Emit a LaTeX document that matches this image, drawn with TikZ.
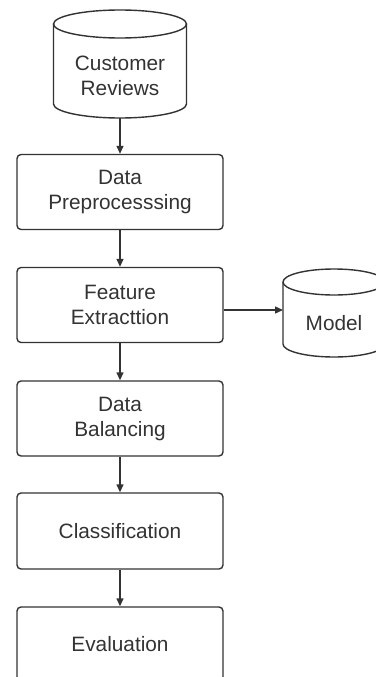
\documentclass[tikz,border=0pt]{standalone}
\usepackage{fontspec}
\setmainfont{Liberation Sans}
\usetikzlibrary{arrows.meta}
\definecolor{ink}{HTML}{333333}
\begin{document}
\begin{tikzpicture}[x=1pt,y=-1pt,
  line width=1.4pt, draw=ink,
  stepbox/.style={draw=ink, rounded corners=4pt, minimum width=206pt, minimum height=75pt,
    align=center, font=\fontsize{20.8}{25}\selectfont, text=ink, inner sep=0pt},
  lbl/.style={align=center, font=\fontsize{20.8}{25}\selectfont, text=ink, inner sep=0pt},
  conn/.style={draw=ink, line width=1.4pt, -{Triangle[length=8pt,width=7pt]}}]
\useasboundingbox (0,0) rectangle (375,677);
\fill[white] (0,0) rectangle (375,677);

% Customer Reviews cylinder
\draw[ink] (53.5,24) -- (53.5,104) arc[start angle=180, end angle=360, x radius=66.5, y radius=-14] -- (186.5,24);
\draw[ink] (120,24) ellipse[x radius=66.5, y radius=14];
\node[lbl] (cr) at (120,76) {Customer\\Reviews};
\coordinate (crb) at (120,118);

% Model cylinder
\draw[ink] (283,282) -- (283,344) arc[start angle=180, end angle=360, x radius=51, y radius=-13] -- (385,282);
\draw[ink] (334,282) ellipse[x radius=51, y radius=13];
\node[lbl] (model) at (334,323) {Model};
\coordinate (modl) at (283,310);

% Process boxes
\node[stepbox] (pre) at (120,192) {Data\\Preprocesssing};
\node[stepbox] (fe) at (120,305) {Feature\\Extracttion};
\node[stepbox] (bal) at (120,418.5) {Data\\Balancing};
\node[stepbox, minimum height=76pt] (cls) at (120,531) {Classification};
\node[stepbox, minimum height=74pt] (ev) at (120,644) {Evaluation};

% Connectors
\draw[conn] (crb) -- (pre.north);
\draw[conn] (pre.south) -- (fe.north);
\draw[conn] (fe.south) -- (bal.north);
\draw[conn] (bal.south) -- (cls.north);
\draw[conn] (cls.south) -- (ev.north);
\draw[conn] (fe.east |- modl) -- (modl);
\end{tikzpicture}
\end{document}
